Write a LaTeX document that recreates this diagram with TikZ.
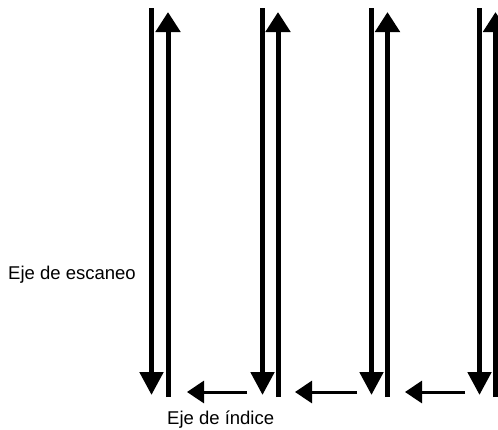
\documentclass[tikz,border=0pt]{standalone}
\usepackage{fontspec}
\setmainfont{Liberation Sans}
\usetikzlibrary{arrows.meta}

\tikzset{
  pass/.style={line width=5pt},
  downpass/.style={pass, -{Triangle[width=23pt,length=23pt]}},
  uppass/.style={pass, -{Triangle[width=24pt,length=20pt]}},
  stepleft/.style={line width=3pt, -{Triangle[width=22pt,length=17pt]}},
  axislabel/.style={inner sep=0pt, font=\fontsize{18.5}{21}\selectfont}
}

\begin{document}
\begin{tikzpicture}[x=1pt,y=1pt,yscale=-1,xscale=1]
\useasboundingbox (0,0) rectangle (498,429);

% ends of the scan passes
\coordinate (dTop1) at (151.5,8);   \coordinate (dBot1) at (151.5,395);
\coordinate (uBot1) at (168,397);   \coordinate (uTop1) at (168,12);
\coordinate (dTop2) at (262.5,8);   \coordinate (dBot2) at (262.5,395);
\coordinate (uBot2) at (278,397);   \coordinate (uTop2) at (278,12);
\coordinate (dTop3) at (371.5,8);   \coordinate (dBot3) at (371.5,395);
\coordinate (uBot3) at (387.5,397); \coordinate (uTop3) at (387.5,12);
\coordinate (dTop4) at (479.5,8);   \coordinate (dBot4) at (479.5,395);
\coordinate (uBot4) at (495.5,397); \coordinate (uTop4) at (495.5,12);

% ends of the index steps
\coordinate (sFrom1) at (247,392); \coordinate (sTo1) at (187,392);
\coordinate (sFrom2) at (357,392); \coordinate (sTo2) at (295,392);
\coordinate (sFrom3) at (465,392); \coordinate (sTo3) at (405,392);

% Scan passes
\draw [downpass] (dTop1) -- (dBot1);
\draw [uppass] (uBot1) -- (uTop1);
\draw [downpass] (dTop2) -- (dBot2);
\draw [uppass] (uBot2) -- (uTop2);
\draw [downpass] (dTop3) -- (dBot3);
\draw [uppass] (uBot3) -- (uTop3);
\draw [downpass] (dTop4) -- (dBot4);
\draw [uppass] (uBot4) -- (uTop4);

% Index steps
\draw [stepleft] (sFrom1) -- (sTo1);
\draw [stepleft] (sFrom2) -- (sTo2);
\draw [stepleft] (sFrom3) -- (sTo3);

% Text Node
\node (scanAxis) [axislabel, anchor=base west] at (8,279) {Eje de escaneo};
% Text Node
\node (indexAxis) [axislabel, anchor=base west] at (167,424) {Eje de índice};

\end{tikzpicture}
\end{document}
